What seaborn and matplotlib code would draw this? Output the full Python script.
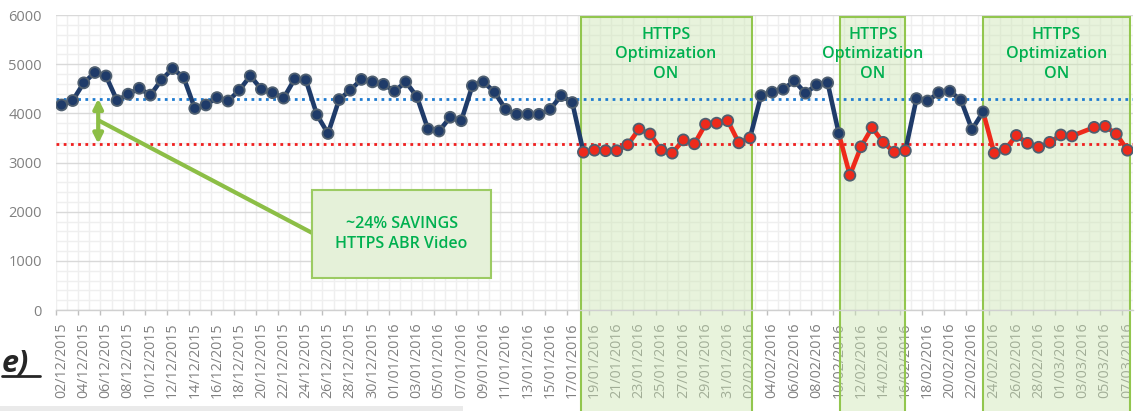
import numpy as np
import pandas as pd
import matplotlib
matplotlib.use("Agg")
import matplotlib.pyplot as plt
from matplotlib.patches import Rectangle
from matplotlib.lines import Line2D
import seaborn as sns

# ---------------- data ----------------
dates = pd.date_range("2015-12-02", "2016-03-07", freq="D")
date_labels = [d.strftime("%d/%m/%Y") for d in dates]

values = [
    4170, 4260, 4620, 4830, 4760, 4260, 4390, 4510, 4370, 4680,
    4910, 4730, 4100, 4170, 4320, 4250, 4470, 4760, 4490, 4420,
    4310, 4700, 4680, 3970, 3590, 4280, 4470, 4690, 4640, 4590,
    4450, 4640, 4340, 3680, 3640, 3920, 3850, 4560, 4640, 4430,
    4080, 3980, 3980, 3980, 4080, 4360, 4220, 3210, 3250, 3240,
    3240, 3360, 3680, 3580, 3250, 3190, 3460, 3380, 3780, 3800,
    3850, 3400, 3500, 4360, 4430, 4490, 4660, 4410, 4580, 4620,
    3590, 2740, 3320, 3710, 3410, 3210, 3240, 4300, 4250, 4420,
    4450, 4270, 3670, 4030, 3190, 3270, 3550, 3390, 3310, 3410,
    3560, 3540, None, 3715, 3735, 3580, 3250,
]

# days on which HTTPS optimization was ON (marker colour)
on_days = list(range(47, 63)) + list(range(71, 77)) + list(range(84, 97))
# line segments (start, end) by colour
blue_segments = [(0, 47), (62, 70), (76, 83)]
red_segments = [(47, 62), (70, 76), (83, 96)]
# shaded "optimization ON" windows on the category axis
on_windows = [(46.75, 62.15), (70.1, 76.0), (83.0, 96.2)]

avg_off = 4300
avg_on = 3380
window_label = "HTTPS\nOptimization\nON"
savings_label = "~24% SAVINGS\nHTTPS ABR Video"

# ---------------- styling ----------------
NAVY = "#1F3B69"
RED = "#EE2A1B"
EDGE = "#4F5F70"
GREEN_TXT = "#00B050"
GREEN_LINE = "#8CBE46"
GREY_TXT = "#808080"

sns.set_theme(style="whitegrid")
plt.rcParams["font.family"] = ["Open Sans", "DejaVu Sans"]

fig = plt.figure(figsize=(11.42, 4.11), dpi=100)
ax = fig.add_axes([56 / 1142, 1 - 310 / 411, (1133 - 56) / 1142, (310 - 15) / 411])

# ---------------- build frames ----------------
rows = []
for seg_id, (a, b) in enumerate(blue_segments):
    for i in range(a, b + 1):
        if values[i] is not None:
            rows.append(dict(seg=f"b{seg_id}", col="off", idx=i, value=values[i]))
for seg_id, (a, b) in enumerate(red_segments):
    for i in range(a, b + 1):
        if values[i] is not None:
            rows.append(dict(seg=f"r{seg_id}", col="on", idx=i, value=values[i]))
line_df = pd.DataFrame(rows)

pts = pd.DataFrame({
    "idx": np.arange(len(values)),
    "value": pd.array(values, dtype="Float64").astype(float),
    "mode": ["on" if i in on_days else "off" for i in range(len(values))],
}).dropna()

palette = {"off": NAVY, "on": RED}

# ---------------- shaded windows ----------------
for x0, x1 in on_windows:
    ax.axvspan(x0, x1, ymin=-0.4, ymax=0.993, facecolor=(0.80, 0.90, 0.70, 0.45),
               edgecolor="#92C64E", lw=1.5, clip_on=False, zorder=1)
    ax.text((x0 + x1) / 2, 5200, window_label, ha="center", va="center",
            color=GREEN_TXT, fontsize=11.5, fontweight="semibold",
            linespacing=1.3, zorder=6)

# ---------------- reference lines ----------------
ax.axhline(avg_off, color="#1F7BD0", lw=2, ls=(0, (1, 1.6)), zorder=2)
ax.axhline(avg_on, color="#F01E1E", lw=2, ls=(0, (1, 1.6)), zorder=2)

# ---------------- series ----------------
sns.lineplot(data=line_df, x="idx", y="value", units="seg", hue="col",
             palette=palette, estimator=None, sort=False, lw=3.3,
             legend=False, ax=ax, zorder=3)
sns.scatterplot(data=pts, x="idx", y="value", hue="mode", palette=palette,
                s=62, edgecolor=EDGE, linewidth=1.3, legend=False, ax=ax, zorder=4)

# ---------------- savings annotation ----------------
ax.annotate("", xy=(3.3, avg_off), xytext=(3.3, avg_on),
            arrowprops=dict(arrowstyle="<|-|>", color=GREEN_LINE, lw=3,
                            mutation_scale=14, shrinkA=0, shrinkB=0), zorder=5)
ax.plot([3.3, 22.55], [3860, 1570], color=GREEN_LINE, lw=3, zorder=5,
        solid_capstyle="butt")
ax.add_patch(Rectangle((22.55, 650), 38.7 - 22.55, 2440 - 650,
                       facecolor="#E5F1D9", edgecolor="#9CCB63", lw=1.5, zorder=5))
ax.text((22.55 + 38.7) / 2, 1545, savings_label, ha="center", va="center",
        color=GREEN_TXT, fontsize=11.5, fontweight="semibold",
        linespacing=1.4, zorder=6)

# ---------------- axes ----------------
ax.set_xlim(-0.5, len(values) - 0.5)
ax.set_ylim(0, 6000)
ax.set_yticks(np.arange(0, 6001, 1000))
ax.set_yticks(np.arange(0, 6001, 200), minor=True)
ax.set_xticks(np.arange(0, len(values), 2))
ax.set_xticklabels(date_labels[::2])
ax.set_xticks(np.arange(-0.5, len(values), 1), minor=True)
ax.set_xlabel("")
ax.set_ylabel("")

ax.grid(which="major", axis="y", color="#D9D9D9", lw=1)
ax.grid(which="minor", axis="y", color="#EFEFEF", lw=1)
ax.grid(which="major", axis="x", visible=False)
ax.grid(which="minor", axis="x", color="#EFEFEF", lw=1)

ax.tick_params(axis="x", which="both", length=0, rotation=90, labelsize=10.3,
               labelcolor=GREY_TXT, pad=9)
ax.tick_params(axis="y", which="both", length=0, labelsize=10.5,
               labelcolor=GREY_TXT, pad=10)
ax.vlines(np.arange(-0.5, len(values), 2), -0.017, 0, transform=ax.get_xaxis_transform(),
          color="#BFBFBF", lw=1, clip_on=False, zorder=0.6)

for s in ["left", "right", "top"]:
    ax.spines[s].set_visible(False)
ax.spines["bottom"].set_color("#D0D0D0")
ax.spines["bottom"].set_linewidth(1)

# ---------------- slide remnants ----------------
fig.text(2 / 1142, 1 - 371 / 411, "e)", fontsize=22, fontweight="bold",
         fontstyle="italic", color="#262626")
fig.add_artist(Line2D([2 / 1142, 40 / 1142], [1 - 376 / 411] * 2, color="#262626", lw=2))
fig.add_artist(Rectangle((0, 0), 463 / 1142, 5 / 411, transform=fig.transFigure,
                         facecolor="#EAEAEA", edgecolor="none"))

fig.savefig("out.png", dpi=100)
